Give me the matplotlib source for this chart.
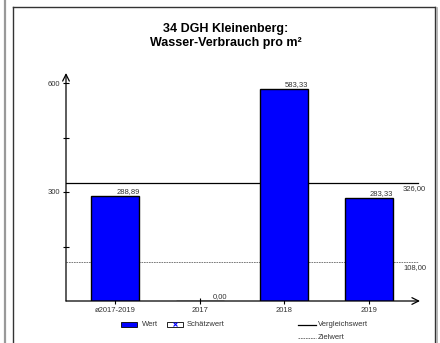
import matplotlib
matplotlib.use('Agg')
import matplotlib.pyplot as plt
from matplotlib.patches import Rectangle
from matplotlib.lines import Line2D

plt.rcParams['font.family'] = ['Liberation Sans', 'DejaVu Sans']

# data
categories = ['ø2017-2019', '2017', '2018', '2019']
values = [288.89, 0.0, 583.33, 283.33]
value_labels = ['288,89', '0,00', '583,33', '283,33']
vergleichswert = 326.0
zielwert = 108.0
y_ticks = [150, 300, 450, 600]
y_tick_labels = ['', '300', '', '600']
title = '34 DGH Kleinenberg:\nWasser-Verbrauch pro m²'

W, H = 440, 343
fig = plt.figure(figsize=(W / 100, H / 100), dpi=100)


def fx(px):
    return px / W


def fy(py):
    return 1 - py / H


# outer frame lines
fig.add_artist(Line2D([fx(4.5), fx(4.5)], [0, 1], color='#999999', lw=1.6))
fig.add_artist(Line2D([fx(13), fx(13)], [0, fy(7)], color='#333333', lw=1.0))
fig.add_artist(Line2D([fx(13), fx(435)], [fy(7), fy(7)], color='#333333', lw=1.0))
fig.add_artist(Line2D([fx(435), fx(435)], [0, fy(7)], color='#333333', lw=1.0))
fig.add_artist(Line2D([fx(436.5), fx(436.5)], [0, fy(8)], color='#aaaaaa', lw=1.2))

# axes: x from px 66 to 420, y=0 at px 301, y top (arrow) at px 73
ax = fig.add_axes([fx(66), fy(301), fx(420 - 66), (301 - 73) / H])
x0, step = 115, 84.67
ax.set_xlim((66 - x0) / step, (420 - x0) / step)
ax.set_ylim(0, 228 / (109 / 300))
for s in ax.spines.values():
    s.set_visible(False)
ax.patch.set_alpha(0)

xs = list(range(len(categories)))
ax.bar(xs, values, width=48 / step, color='#0000ff', edgecolor='black', lw=1.0, zorder=3)

# value labels
ax.annotate(value_labels[0], (xs[0] + 0.16, values[0]), xytext=(0, 1), textcoords='offset points',
            ha='center', va='bottom', fontsize=5.5, color='#333333')
ax.annotate(value_labels[1], (xs[1] + 0.15, 0), xytext=(0, 1), textcoords='offset points',
            ha='left', va='bottom', fontsize=5.5, color='#333333')
for i in (2, 3):
    ax.annotate(value_labels[i], (xs[i] + 0.28, values[i]), xytext=(0, 1), textcoords='offset points',
                ha='right', va='bottom', fontsize=5.5, color='#333333')

# reference lines
xl = ax.get_xlim()
xr = (418 - x0) / step
ax.plot([xl[0], xr], [vergleichswert, vergleichswert], color='black', lw=0.9, zorder=2)
ax.plot([xl[0], xr], [zielwert, zielwert], color='#666666', lw=0.6, ls=(0, (2, 1)), zorder=2)
ax.annotate('326,00', ((403 - x0) / step, vergleichswert), xytext=(0, -1.5), textcoords='offset points',
            ha='left', va='top', fontsize=5.5, color='#333333')
ax.annotate('108,00', ((403 - x0) / step, zielwert), xytext=(0, -1.5), textcoords='offset points',
            ha='left', va='top', fontsize=5.5, color='#333333')

# axes arrows
yl = ax.get_ylim()
ax.annotate('', xy=(xl[1], 0), xytext=(xl[0], 0),
            arrowprops=dict(arrowstyle='->', lw=0.9, color='black', mutation_scale=12,
                            shrinkA=0, shrinkB=0), annotation_clip=False)
ax.annotate('', xy=(xl[0], yl[1]), xytext=(xl[0], 0),
            arrowprops=dict(arrowstyle='->', lw=0.9, color='black', mutation_scale=12,
                            shrinkA=0, shrinkB=0), annotation_clip=False)

# ticks
ax.set_yticks(y_ticks)
ax.set_yticklabels(y_tick_labels, fontsize=5.5, color='#333333')
ax.tick_params(axis='y', direction='inout', length=5, width=0.8, pad=2)
ax.set_xticks(xs)
ax.set_xticklabels(categories, fontsize=5.5, color='#333333')
ax.tick_params(axis='x', direction='inout', length=5, width=0.8, pad=2)

# title
fig.text(fx(226), fy(36), title, ha='center', va='center', fontsize=9, fontweight='bold',
         linespacing=1.25)

# legend
fig.add_artist(Rectangle((fx(121), fy(326.5)), fx(16), 4.5 / H, facecolor='#0000ff', edgecolor='black', lw=0.6))
fig.text(fx(142), fy(324.5), 'Wert', fontsize=5.5, va='center', color='#333333')
fig.add_artist(Rectangle((fx(167), fy(326.5)), fx(16), 4.5 / H, facecolor='white', edgecolor='black', lw=0.6))
fig.add_artist(Line2D([fx(175)], [fy(324.3)], marker='x', color='#0000ff', ms=3, mew=0.8))
fig.text(fx(187), fy(324.5), 'Schätzwert', fontsize=5.5, va='center', color='#333333')
fig.add_artist(Line2D([fx(298), fx(316)], [fy(325), fy(325)], color='black', lw=0.9))
fig.text(fx(318), fy(324.5), 'Vergleichswert', fontsize=5.5, va='center', color='#333333')
fig.add_artist(Line2D([fx(298), fx(316)], [fy(338), fy(338)], color='#666666', lw=0.6, ls=(0, (2, 1))))
fig.text(fx(318), fy(337.5), 'Zielwert', fontsize=5.5, va='center', color='#333333')

fig.savefig('out.png', dpi=100)
